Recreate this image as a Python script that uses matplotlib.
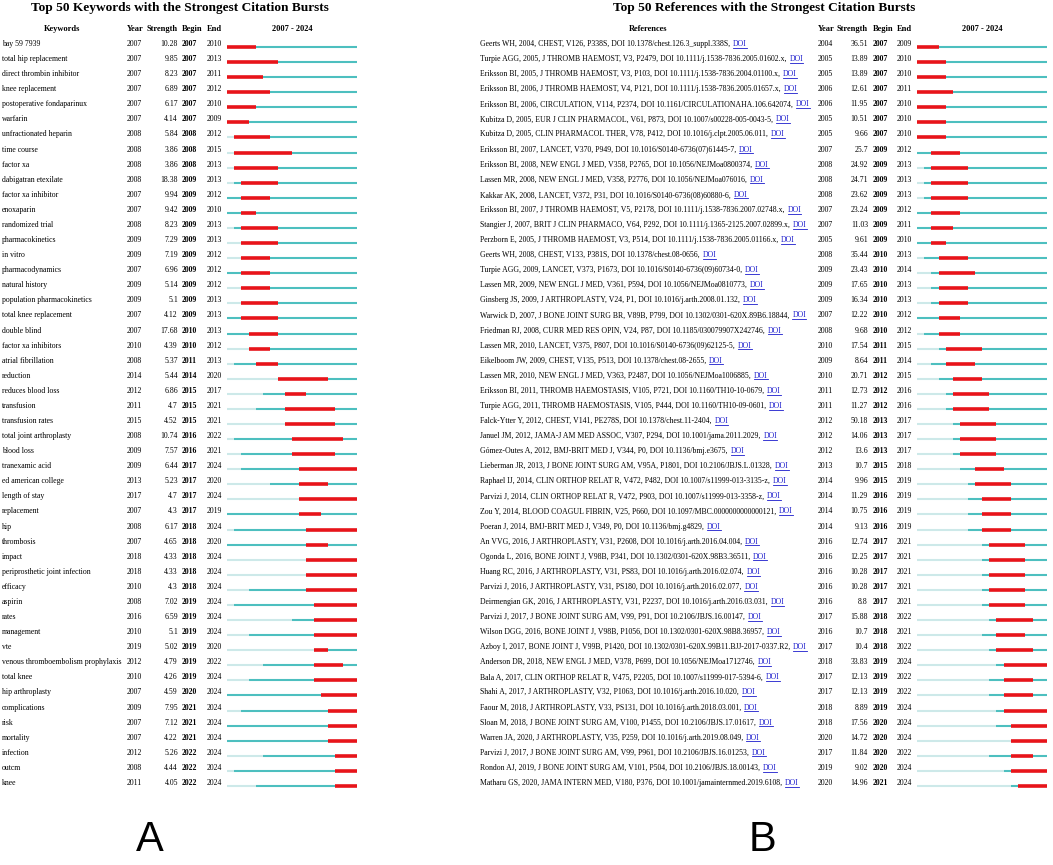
import matplotlib
matplotlib.use("Agg")
import matplotlib.pyplot as plt

# ---------------------------------------------------------------------------
# Data: keyword bursts (panel A)
# ---------------------------------------------------------------------------
kw_names = [
    "bay 59 7939", "total hip replacement", "direct thrombin inhibitor",
    "knee replacement", "postoperative fondaparinux", "warfarin",
    "unfractionated heparin", "time course", "factor xa",
    "dabigatran etexilate", "factor xa inhibitor", "enoxaparin",
    "randomized trial", "pharmacokinetics", "in vitro", "pharmacodynamics",
    "natural history", "population pharmacokinetics", "total knee replacement",
    "double blind", "factor xa inhibitors", "atrial fibrillation", "reduction",
    "reduces blood loss", "transfusion", "transfusion rates",
    "total joint arthroplasty", "blood loss", "tranexamic acid",
    "ed american college", "length of stay", "replacement", "hip",
    "thrombosis", "impact", "periprosthetic joint infection", "efficacy",
    "aspirin", "rates", "management", "vte",
    "venous thromboembolism prophylaxis", "total knee", "hip arthroplasty",
    "complications", "risk", "mortality", "infection", "outcm", "knee",
]
kw_year = [2007, 2007, 2007, 2007, 2007, 2007, 2008, 2008, 2008, 2008,
           2007, 2007, 2008, 2009, 2009, 2007, 2009, 2009, 2007, 2007,
           2010, 2008, 2014, 2012, 2011, 2015, 2008, 2009, 2009, 2013,
           2017, 2007, 2008, 2007, 2018, 2018, 2010, 2008, 2016, 2010,
           2019, 2012, 2010, 2007, 2009, 2007, 2007, 2012, 2008, 2011]
kw_strength = ["10.28", "9.85", "8.23", "6.89", "6.17", "4.14", "5.84", "3.86",
               "3.86", "18.38", "9.94", "9.42", "8.23", "7.29", "7.19", "6.96",
               "5.14", "5.1", "4.12", "17.68", "4.39", "5.37", "5.44", "6.86",
               "4.7", "4.52", "10.74", "7.57", "6.44", "5.23", "4.7", "4.3",
               "6.17", "4.65", "4.33", "4.33", "4.3", "7.02", "6.59", "5.1",
               "5.02", "4.79", "4.26", "4.59", "7.95", "7.12", "4.22", "5.26",
               "4.44", "4.05"]
kw_begin = [2007, 2007, 2007, 2007, 2007, 2007, 2008, 2008, 2008, 2009,
            2009, 2009, 2009, 2009, 2009, 2009, 2009, 2009, 2009, 2010,
            2010, 2011, 2014, 2015, 2015, 2015, 2016, 2016, 2017, 2017,
            2017, 2017, 2018, 2018, 2018, 2018, 2018, 2019, 2019, 2019,
            2019, 2019, 2019, 2020, 2021, 2021, 2021, 2022, 2022, 2022]
kw_end = [2010, 2013, 2011, 2012, 2010, 2009, 2012, 2015, 2013, 2013,
          2012, 2010, 2013, 2013, 2012, 2012, 2012, 2013, 2013, 2013,
          2012, 2013, 2020, 2017, 2021, 2021, 2022, 2021, 2024, 2020,
          2024, 2019, 2024, 2020, 2024, 2024, 2024, 2024, 2024, 2024,
          2020, 2022, 2024, 2024, 2024, 2024, 2024, 2024, 2024, 2024]

# ---------------------------------------------------------------------------
# Data: reference bursts (panel B)
# ---------------------------------------------------------------------------
ref_names = [
    "Geerts WH, 2004, CHEST, V126, P338S, DOI 10.1378/chest.126.3_suppl.338S,",
    "Turpie AGG, 2005, J THROMB HAEMOST, V3, P2479, DOI 10.1111/j.1538-7836.2005.01602.x,",
    "Eriksson BI, 2005, J THROMB HAEMOST, V3, P103, DOI 10.1111/j.1538-7836.2004.01100.x,",
    "Eriksson BI, 2006, J THROMB HAEMOST, V4, P121, DOI 10.1111/j.1538-7836.2005.01657.x,",
    "Eriksson BI, 2006, CIRCULATION, V114, P2374, DOI 10.1161/CIRCULATIONAHA.106.642074,",
    "Kubitza D, 2005, EUR J CLIN PHARMACOL, V61, P873, DOI 10.1007/s00228-005-0043-5,",
    "Kubitza D, 2005, CLIN PHARMACOL THER, V78, P412, DOI 10.1016/j.clpt.2005.06.011,",
    "Eriksson BI, 2007, LANCET, V370, P949, DOI 10.1016/S0140-6736(07)61445-7,",
    "Eriksson BI, 2008, NEW ENGL J MED, V358, P2765, DOI 10.1056/NEJMoa0800374,",
    "Lassen MR, 2008, NEW ENGL J MED, V358, P2776, DOI 10.1056/NEJMoa076016,",
    "Kakkar AK, 2008, LANCET, V372, P31, DOI 10.1016/S0140-6736(08)60880-6,",
    "Eriksson BI, 2007, J THROMB HAEMOST, V5, P2178, DOI 10.1111/j.1538-7836.2007.02748.x,",
    "Stangier J, 2007, BRIT J CLIN PHARMACO, V64, P292, DOI 10.1111/j.1365-2125.2007.02899.x,",
    "Perzborn E, 2005, J THROMB HAEMOST, V3, P514, DOI 10.1111/j.1538-7836.2005.01166.x,",
    "Geerts WH, 2008, CHEST, V133, P381S, DOI 10.1378/chest.08-0656,",
    "Turpie AGG, 2009, LANCET, V373, P1673, DOI 10.1016/S0140-6736(09)60734-0,",
    "Lassen MR, 2009, NEW ENGL J MED, V361, P594, DOI 10.1056/NEJMoa0810773,",
    "Ginsberg JS, 2009, J ARTHROPLASTY, V24, P1, DOI 10.1016/j.arth.2008.01.132,",
    "Warwick D, 2007, J BONE JOINT SURG BR, V89B, P799, DOI 10.1302/0301-620X.89B6.18844,",
    "Friedman RJ, 2008, CURR MED RES OPIN, V24, P87, DOI 10.1185/030079907X242746,",
    "Lassen MR, 2010, LANCET, V375, P807, DOI 10.1016/S0140-6736(09)62125-5,",
    "Eikelboom JW, 2009, CHEST, V135, P513, DOI 10.1378/chest.08-2655,",
    "Lassen MR, 2010, NEW ENGL J MED, V363, P2487, DOI 10.1056/NEJMoa1006885,",
    "Eriksson BI, 2011, THROMB HAEMOSTASIS, V105, P721, DOI 10.1160/TH10-10-0679,",
    "Turpie AGG, 2011, THROMB HAEMOSTASIS, V105, P444, DOI 10.1160/TH10-09-0601,",
    "Falck-Ytter Y, 2012, CHEST, V141, PE278S, DOI 10.1378/chest.11-2404,",
    "Januel JM, 2012, JAMA-J AM MED ASSOC, V307, P294, DOI 10.1001/jama.2011.2029,",
    "Gómez-Outes A, 2012, BMJ-BRIT MED J, V344, P0, DOI 10.1136/bmj.e3675,",
    "Lieberman JR, 2013, J BONE JOINT SURG AM, V95A, P1801, DOI 10.2106/JBJS.L.01328,",
    "Raphael IJ, 2014, CLIN ORTHOP RELAT R, V472, P482, DOI 10.1007/s11999-013-3135-z,",
    "Parvizi J, 2014, CLIN ORTHOP RELAT R, V472, P903, DOI 10.1007/s11999-013-3358-z,",
    "Zou Y, 2014, BLOOD COAGUL FIBRIN, V25, P660, DOI 10.1097/MBC.0000000000000121,",
    "Poeran J, 2014, BMJ-BRIT MED J, V349, P0, DOI 10.1136/bmj.g4829,",
    "An VVG, 2016, J ARTHROPLASTY, V31, P2608, DOI 10.1016/j.arth.2016.04.004,",
    "Ogonda L, 2016, BONE JOINT J, V98B, P341, DOI 10.1302/0301-620X.98B3.36511,",
    "Huang RC, 2016, J ARTHROPLASTY, V31, PS83, DOI 10.1016/j.arth.2016.02.074,",
    "Parvizi J, 2016, J ARTHROPLASTY, V31, PS180, DOI 10.1016/j.arth.2016.02.077,",
    "Deirmengian GK, 2016, J ARTHROPLASTY, V31, P2237, DOI 10.1016/j.arth.2016.03.031,",
    "Parvizi J, 2017, J BONE JOINT SURG AM, V99, P91, DOI 10.2106/JBJS.16.00147,",
    "Wilson DGG, 2016, BONE JOINT J, V98B, P1056, DOI 10.1302/0301-620X.98B8.36957,",
    "Azboy I, 2017, BONE JOINT J, V99B, P1420, DOI 10.1302/0301-620X.99B11.BJJ-2017-0337.R2,",
    "Anderson DR, 2018, NEW ENGL J MED, V378, P699, DOI 10.1056/NEJMoa1712746,",
    "Bala A, 2017, CLIN ORTHOP RELAT R, V475, P2205, DOI 10.1007/s11999-017-5394-6,",
    "Shahi A, 2017, J ARTHROPLASTY, V32, P1063, DOI 10.1016/j.arth.2016.10.020,",
    "Faour M, 2018, J ARTHROPLASTY, V33, PS131, DOI 10.1016/j.arth.2018.03.001,",
    "Sloan M, 2018, J BONE JOINT SURG AM, V100, P1455, DOI 10.2106/JBJS.17.01617,",
    "Warren JA, 2020, J ARTHROPLASTY, V35, P259, DOI 10.1016/j.arth.2019.08.049,",
    "Parvizi J, 2017, J BONE JOINT SURG AM, V99, P961, DOI 10.2106/JBJS.16.01253,",
    "Rondon AJ, 2019, J BONE JOINT SURG AM, V101, P504, DOI 10.2106/JBJS.18.00143,",
    "Matharu GS, 2020, JAMA INTERN MED, V180, P376, DOI 10.1001/jamainternmed.2019.6108,",
]
ref_year = [2004, 2005, 2005, 2006, 2006, 2005, 2005, 2007, 2008, 2008,
            2008, 2007, 2007, 2005, 2008, 2009, 2009, 2009, 2007, 2008,
            2010, 2009, 2010, 2011, 2011, 2012, 2012, 2012, 2013, 2014,
            2014, 2014, 2014, 2016, 2016, 2016, 2016, 2016, 2017, 2016,
            2017, 2018, 2017, 2017, 2018, 2018, 2020, 2017, 2019, 2020]
ref_strength = ["36.51", "13.89", "13.89", "12.61", "11.95", "10.51", "9.66",
                "25.7", "24.92", "24.71", "23.62", "23.24", "11.03", "9.61",
                "35.44", "23.43", "17.65", "16.34", "12.22", "9.68", "17.54",
                "8.64", "20.71", "12.73", "11.27", "50.18", "14.06", "13.6",
                "10.7", "9.96", "11.29", "10.75", "9.13", "12.74", "12.25",
                "10.28", "10.28", "8.8", "15.88", "10.7", "10.4", "33.83",
                "12.13", "12.13", "8.89", "17.56", "14.72", "11.84", "9.02",
                "14.96"]
ref_begin = [2007, 2007, 2007, 2007, 2007, 2007, 2007, 2009, 2009, 2009,
             2009, 2009, 2009, 2009, 2010, 2010, 2010, 2010, 2010, 2010,
             2011, 2011, 2012, 2012, 2012, 2013, 2013, 2013, 2015, 2015,
             2016, 2016, 2016, 2017, 2017, 2017, 2017, 2017, 2018, 2018,
             2018, 2019, 2019, 2019, 2019, 2020, 2020, 2020, 2020, 2021]
ref_end = [2009, 2010, 2010, 2011, 2010, 2010, 2010, 2012, 2013, 2013,
           2013, 2012, 2011, 2010, 2013, 2014, 2013, 2013, 2012, 2012,
           2015, 2014, 2015, 2016, 2016, 2017, 2017, 2017, 2018, 2019,
           2019, 2019, 2019, 2021, 2021, 2021, 2021, 2021, 2022, 2021,
           2022, 2024, 2022, 2022, 2024, 2024, 2024, 2022, 2024, 2024]

START, STOP = 2007, 2024

# ---------------------------------------------------------------------------
# Style
# ---------------------------------------------------------------------------
SERIF = "Liberation Serif"
FS = 5.6       # body rows
FS_HDR = 6.0   # column headers
C_LIGHT = "#cde9e9"
C_TEAL = "#4dbfbf"
C_RED = "#e8141a"
C_LINK = "#1a1acc"

W, H = 1053, 865
ROW0, DY = 44.0, 15.08

fig = plt.figure(figsize=(W / 100, H / 100), dpi=100)
ax = fig.add_axes([0, 0, 1, 1])
ax.set_xlim(0, W)
ax.set_ylim(H, 0)
ax.axis("off")


def row_y(i):
    return ROW0 + i * DY


def draw_bars(x0, x1, years, begins, ends):
    n = len(years)
    top = row_y(0) - DY / 2
    bot = row_y(n - 1) + DY / 2
    bax = fig.add_axes([x0 / W, 1 - bot / H, (x1 - x0) / W, (bot - top) / H])
    bax.set_xlim(START, STOP + 1)
    bax.set_ylim(n - 0.5, -0.5)
    bax.axis("off")
    for i, (yr, b, e) in enumerate(zip(years, begins, ends)):
        y = i + 0.2
        first = max(yr, START)
        if first > START:
            bax.hlines(y, START, first, color=C_LIGHT, lw=1.5,
                       capstyle="butt")
        bax.hlines(y, first, STOP + 1, color=C_TEAL, lw=1.5, capstyle="butt")
        bax.hlines(y, b, e + 1, color=C_RED, lw=2.6, capstyle="butt",
                   zorder=3)


def draw_panel(names, years, strengths, begins, ends, cols, title, title_x,
               name_header, name_header_x, link):
    x_name, x_year, x_str, x_beg, x_end, bx0, bx1 = cols
    ax.text(title_x, 8, title, fontsize=9.6, fontweight="bold",
            family=SERIF, ha="center", va="center")
    hy = 29
    hdr = dict(fontsize=FS_HDR, fontweight="bold", family=SERIF, va="center")
    ax.text(name_header_x, hy, name_header, ha="center", **hdr)
    ax.text(x_year, hy, "Year", ha="left", **hdr)
    ax.text(x_str, hy, "Strength", ha="right", **hdr)
    ax.text(x_beg, hy, "Begin", ha="left", **hdr)
    ax.text(x_end, hy, "End", ha="left", **hdr)
    ax.text((bx0 + bx1) / 2, hy, f"{START} - {STOP}", ha="center", **hdr)

    fig.canvas.draw()
    renderer = fig.canvas.get_renderer()
    inv = ax.transData.inverted()
    for i, name in enumerate(names):
        y = row_y(i)
        t = ax.text(x_name, y, name, fontsize=FS, family=SERIF,
                    ha="left", va="center")
        if link:
            # blue underlined "DOI" link right after the reference text
            bb = t.get_window_extent(renderer)
            (xr, _), = inv.transform([(bb.x1, bb.y0)])
            d = ax.text(xr + 3, y, "DOI", fontsize=FS, family=SERIF,
                        color=C_LINK, ha="left", va="center")
            db = d.get_window_extent(renderer)
            (ux0, uy), (ux1, _) = inv.transform([(db.x0, db.y0),
                                                 (db.x1, db.y0)])
            ax.plot([ux0, ux1], [uy - 0.3, uy - 0.3], color=C_LINK, lw=0.6)
        ax.text(x_year, y, str(years[i]), fontsize=FS, family=SERIF,
                ha="left", va="center")
        ax.text(x_str, y, strengths[i], fontsize=FS, family=SERIF,
                ha="right", va="center")
        ax.text(x_beg, y, str(begins[i]), fontsize=FS, family=SERIF,
                fontweight="bold", ha="left", va="center")
        ax.text(x_end, y, str(ends[i]), fontsize=FS, family=SERIF,
                ha="left", va="center")
    draw_bars(bx0, bx1, years, begins, ends)


draw_panel(kw_names, kw_year, kw_strength, kw_begin, kw_end,
           (2, 127, 178, 182, 207, 227, 357),
           "Top 50 Keywords with the Strongest Citation Bursts", 180,
           "Keywords", 62, link=False)
draw_panel(ref_names, ref_year, ref_strength, ref_begin, ref_end,
           (480, 818, 868, 873, 897, 917, 1047),
           "Top 50 References with the Strongest Citation Bursts", 764,
           "References", 648, link=True)

ax.text(150, 840, "A", fontsize=30, family="Liberation Sans",
        ha="center", va="center")
ax.text(763, 840, "B", fontsize=30, family="Liberation Sans",
        ha="center", va="center")

fig.savefig("out.png", dpi=100)
